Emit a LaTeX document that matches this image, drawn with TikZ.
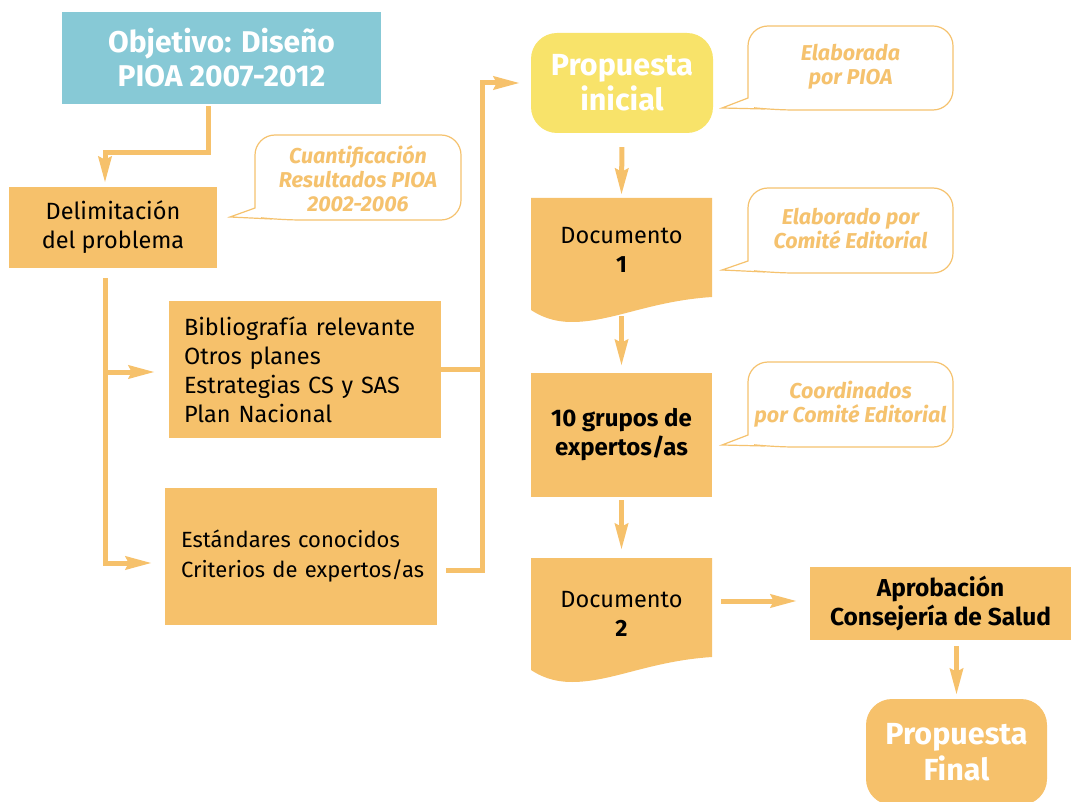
\documentclass[tikz,border=0pt]{standalone}
\usepackage{fontspec}
\setmainfont{Fira Sans}
\usetikzlibrary{arrows.meta,calc}
\definecolor{orng}{RGB}{246,193,107}
\definecolor{yel}{RGB}{248,227,106}
\definecolor{tealb}{RGB}{135,201,214}
\definecolor{bubc}{RGB}{245,194,110}
\newcommand\fsz[2]{\fontsize{#1}{#2}\selectfont}
\newcommand\bubpath[6]{%
  \draw[bubline] (#1,#4-12) [rounded corners=20pt] -- (#1,#2) -- (#3,#2) -- (#3,#4) -- (#1+26,#4) [sharp corners] -- (#1+17,#4-1) -- (#5,#6) -- cycle;}
\begin{document}
\begin{tikzpicture}[x=1pt,y=-1pt,
  box/.style={fill=orng, inner sep=0pt, align=center, font=\fsz{23.5}{29}},
  line/.style={draw=orng, line width=5pt, line join=miter},
  arr/.style={line, -{Stealth[length=26pt,width=13pt,inset=3pt]}},
  bubline/.style={draw=bubc, line width=1.2pt, fill=white},
  bubtext/.style={text=bubc, font=\bfseries\itshape\fsz{21.5}{24}, align=center, inner sep=0pt}
]
\useasboundingbox (0,0) rectangle (1071,802);

% main boxes
\node[fill=tealb, minimum width=319pt, minimum height=92pt, text=white, inner sep=0pt,
      font=\bfseries\fsz{30}{34}, align=center] (objetivo) at (221.5,58) {Objetivo: Diseño\\PIOA 2007-2012};
\node[box, minimum width=208pt, minimum height=81pt] (delim) at (113,227.5) {Delimitación\\del problema};
\node[box, minimum width=272pt, minimum height=137pt, align=left, text width=242pt, inner xsep=15pt]
      (biblio) at (305,369.5) {\mbox{Bibliografía relevante}\\Otros planes\\\mbox{Estrategias CS y SAS}\\Plan Nacional};
\node[box, minimum width=272pt, minimum height=137pt, align=left, text width=240pt, inner xsep=16pt,
      font=\fsz{22}{30}]
      (estand) at (301,556.5) {\mbox{Estándares conocidos}\\\mbox{Criterios de expertos/as}};

\node[fill=yel, rounded corners=26pt, minimum width=182pt, minimum height=100pt, text=white, inner sep=0pt,
      font=\bfseries\fsz{30.5}{35}, align=center] (inicial) at (622,83) {Propuesta\\inicial};

% document shapes
\fill[orng] (531,198) -- (712,198) -- (712,297) .. controls (650,301) and (612,322) .. (572,322)
   .. controls (553,322) and (540,316) .. (531,310) -- cycle;
\node[inner sep=0pt, minimum width=181pt, minimum height=104pt, align=center, font=\fsz{23.5}{29}]
      (doc1) at (621.5,250) {Documento\\\textbf{1}};

\node[box, minimum width=181pt, minimum height=124pt, font=\bfseries\fsz{24}{29}] (grupos) at (621.5,435) {10 grupos de\\expertos/as};

\fill[orng] (531,558) -- (712,558) -- (712,657) .. controls (650,661) and (612,682) .. (572,682)
   .. controls (553,682) and (540,676) .. (531,670) -- cycle;
\node[inner sep=0pt, minimum width=181pt, minimum height=108pt, align=center, font=\fsz{23.5}{29}]
      (doc2) at (621.5,614) {Documento\\\textbf{2}};

\node[box, minimum width=261pt, minimum height=73pt, font=\bfseries\fsz{24.5}{29}] (aprob) at (940.5,603.5) {Aprobación\\Consejería de Salud};
\node[fill=orng, rounded corners=26pt, minimum width=181pt, minimum height=106pt, text=white, inner sep=0pt,
      font=\bfseries\fsz{30.5}{36}, align=center] (final) at (956.5,752) {Propuesta\\Final};

% bubbles
\bubpath{255}{135}{461}{220}{230}{217}
\node[bubtext] (b1) at (358,179) {Cuantificación\\Resultados PIOA\\2002-2006};
\bubpath{748}{26}{953}{110}{722}{108}
\node[bubtext] (b2) at (850.5,67) {Elaborada\\por PIOA};
\bubpath{748}{188}{953}{273}{722}{270}
\node[bubtext] (b3) at (850.5,229) {Elaborado por\\Comité Editorial};
\bubpath{748}{362}{953}{447}{722}{445}
\node[bubtext] (b4) at (850.5,404) {Coordinados\\por Comité Editorial};

% connectors
\draw[arr, shorten <=2pt, shorten >=4pt] ([xshift=-13.5pt]objetivo.south) -- ++(0,48) -| ([xshift=-8pt]delim.north);
\coordinate (jl1) at (105,372);
\coordinate (jl2) at (105,563);
\draw[arr, shorten >=13pt] ([xshift=-8pt,yshift=-10pt]delim.south) -- (jl2) -- (jl2 -| estand.west);
\draw[arr, shorten >=14pt] (jl1) -- (jl1 -| biblio.west);
\coordinate (jr) at (482,83);
\coordinate (er) at (446,570);
\draw[line] (biblio.east) -- (biblio.east -| jr);
\draw[arr, shorten >=11pt] (er) -| (jr) -- (inicial.west);
\draw[arr, shorten <=14pt, shorten >=3pt] (inicial.south) -- (doc1.north);
\draw[arr, shorten <=14pt, shorten >=7pt] (doc1.south) -- (grupos.north);
\draw[arr, shorten <=3pt, shorten >=10pt] (grupos.south) -- (doc2.north);
\draw[arr, shorten <=9pt, shorten >=13pt] (doc2.east |- 0,601) -- (aprob.west |- 0,601);
\draw[arr, shorten <=6pt, shorten >=4pt] (aprob.south -| final.north) -- (final.north);
\end{tikzpicture}
\end{document}
